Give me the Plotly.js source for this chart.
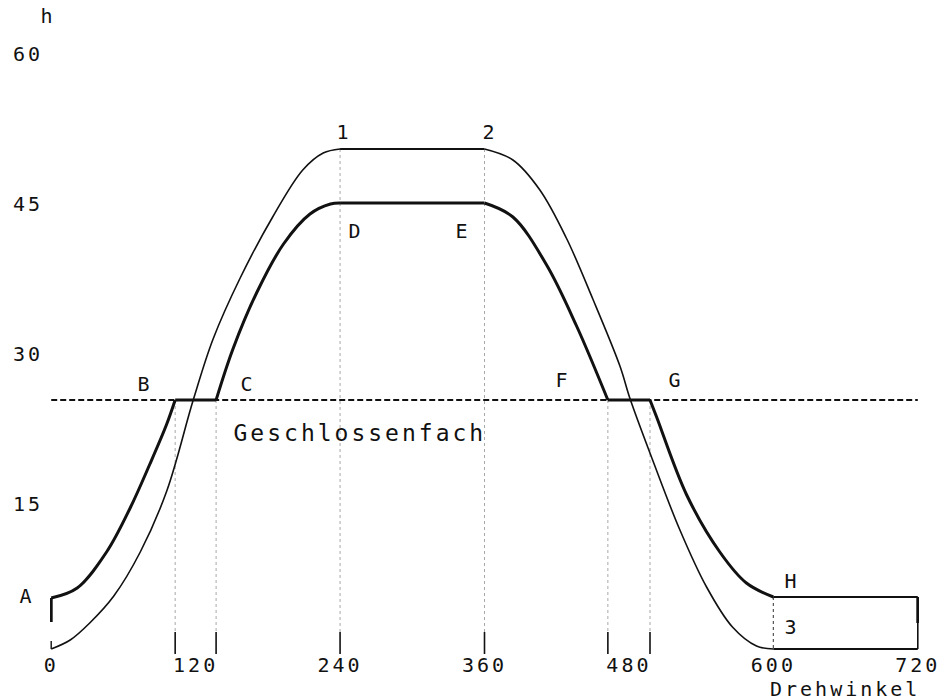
<!DOCTYPE html>
<html>
<head>
<meta charset="utf-8">
<script src="https://cdn.plot.ly/plotly-3.0.1.min.js"></script>
<style>
  body { margin: 0; background: #fff; }
  .main-svg text { letter-spacing: 3px; }
</style>
</head>
<body>
<div id="chart" style="width:946px;height:700px"></div>
<script>
// ---- data ----
const xTickVals = [0, 120, 240, 360, 480, 600, 720];
const xTickText = ['0', '120', '240', '360', '480', '600', '720'];
const yTickVals = [15, 30, 45, 60];
const yTickText = ['15', '30', '45', '60'];

const closedLevel = 25.4;           // Geschlossenfach
const closedX = [0, 720];

// bold curve pieces: A-B, B-C, C-D, D-E, E-F, F-G, G-H, H-end
const boldAB_X = [0, 21.6, 46, 65.6, 82, 96, 103];
const boldAB_Y = [5.6, 6.6, 10.2, 14.6, 19.0, 23.0, 25.4];
const boldBC_X = [103, 137];
const boldBC_Y = [25.4, 25.4];
const boldCD_X = [137, 151, 171, 193, 215, 232, 240];
const boldCD_Y = [25.4, 30.5, 36.2, 41.0, 44.0, 45.0, 45.1];
const boldDE_X = [240, 360];
const boldDE_Y = [45.1, 45.1];
const boldEF_X = [360, 383.6, 411.6, 436.5, 462.5];
const boldEF_Y = [45.1, 43.7, 38.9, 32.8, 25.4];
const boldFG_X = [462.5, 497.5];
const boldFG_Y = [25.4, 25.4];
const boldGH_X = [497.5, 503, 528, 555.5, 577.6, 600];
const boldGH_Y = [25.4, 23.7, 15.9, 10.2, 7.1, 5.7];
const boldHend_X = [600, 720];
const boldHend_Y = [5.7, 5.7];

// thin curve pieces: rise, plateau 1-2, fall, low end
const thinRiseX = [0, 15.8, 32, 52, 74, 96, 118, 134.5, 157, 184, 209, 226, 240];
const thinRiseY = [0.5, 1.4, 3.1, 5.8, 10.2, 16.3, 25.4, 31.5, 37.6, 43.7, 48.4, 50.1, 50.5];
const thinTopX = [240, 360];
const thinTopY = [50.5, 50.5];
const thinFallX = [360, 383.6, 406, 428, 450, 472.5, 481, 500, 522, 544.5, 566, 586, 600];
const thinFallY = [50.5, 49.4, 46.4, 41.6, 35.5, 28.8, 25.5, 19.3, 12.5, 6.7, 2.7, 0.8, 0.5];
const thinEndX = [600, 720];
const thinEndY = [0.5, 0.5];

// vertical guides and bottom marks
const guideX = [103, 137, 240, 360, 462.5, 497.5];
const guideTop = [25.4, 25.4, 50.5, 50.5, 25.4, 25.4];
const markTop = 2.2;

// end pieces
const startBoldY = [5.6, 3.2];
const startThinY = [1.3, 0.5];
const endBoldY = [5.7, 3.1];
const endThinY = [3.1, 0.5];
const box3Y = [5.7, 0.5];

// point labels (data coordinates)
const labelText = ['B', 'C', 'D', 'E', 'F', 'G', 'H', '1', '2', '3'];
const labelX = [78, 163.6, 253.3, 342, 425, 519.5, 615.3, 243.3, 364.6, 615.3];
const labelY = [27.0, 27.0, 42.3, 42.3, 27.4, 27.4, 7.3, 52.2, 52.2, 2.7];

// ---- build traces ----
const INK = '#111';
function seg(x, y, w, opts) {
  opts = opts || {};
  const line = { color: opts.color || INK, width: w, shape: opts.shape || 'linear', dash: opts.dash || 'solid' };
  if (opts.smoothing !== undefined) line.smoothing = opts.smoothing;
  return { type: 'scatter', mode: 'lines', x: x, y: y, hoverinfo: 'skip', showlegend: false, line: line };
}
const curve = { shape: 'spline', smoothing: 1.0 };

const traces = [];
guideX.forEach((gx, i) => {
  traces.push(seg([gx, gx], [guideTop[i], markTop], 1, { color: '#a8a8a8', dash: 'dot' }));
  traces.push(seg([gx, gx], [0, markTop], 1.6));
});
traces.push(seg([600, 600], box3Y, 1.2, { color: '#555', dash: 'dot' }));
traces.push(seg(closedX, [closedLevel, closedLevel], 2, { dash: '6px,3px' }));

// thin curve
traces.push(seg(thinRiseX, thinRiseY, 1.6, curve));
traces.push(seg(thinTopX, thinTopY, 1.8));
traces.push(seg(thinFallX, thinFallY, 1.6, curve));
traces.push(seg(thinEndX, thinEndY, 1.8));

// bold curve
traces.push(seg(boldAB_X, boldAB_Y, 3, curve));
traces.push(seg(boldBC_X, boldBC_Y, 3));
traces.push(seg(boldCD_X, boldCD_Y, 3, curve));
traces.push(seg(boldDE_X, boldDE_Y, 3));
traces.push(seg(boldEF_X, boldEF_Y, 3, curve));
traces.push(seg(boldFG_X, boldFG_Y, 3));
traces.push(seg(boldGH_X, boldGH_Y, 3, curve));
traces.push(seg(boldHend_X, boldHend_Y, 1.8));

// end pieces
traces.push(seg([0, 0], startBoldY, 3));
traces.push(seg([0, 0], startThinY, 1.4));
traces.push(seg([720, 720], endBoldY, 3));
traces.push(seg([720, 720], endThinY, 1.6));

const FONT = { family: 'DejaVu Sans Mono, Liberation Mono, monospace', size: 20, color: INK };

const annotations = labelText.map((t, i) => ({
  text: t, x: labelX[i], y: labelY[i], xref: 'x', yref: 'y',
  showarrow: false, xanchor: 'center', yanchor: 'middle', font: FONT
}));
annotations.push({
  text: 'Geschlossenfach', x: 256.4, y: 22.1, xref: 'x', yref: 'y',
  showarrow: false, xanchor: 'center', yanchor: 'middle',
  font: Object.assign({}, FONT, { size: 23 })
});
// labels outside the plotting area (paper coordinates)
annotations.push({ text: 'h', x: -0.002, y: 1.046, xref: 'paper', yref: 'paper',
  showarrow: false, xanchor: 'center', yanchor: 'middle', font: FONT });
annotations.push({ text: 'A', x: -0.0265, y: 0.0995, xref: 'paper', yref: 'paper',
  showarrow: false, xanchor: 'center', yanchor: 'middle', font: FONT });
annotations.push({ text: 'Drehwinkel', x: 0.9148, y: -0.053, xref: 'paper', yref: 'paper',
  showarrow: false, xanchor: 'center', yanchor: 'middle', font: FONT });

const layout = {
  width: 946, height: 700,
  margin: { l: 50, r: 27, t: 44, b: 43 },
  paper_bgcolor: '#fff', plot_bgcolor: '#fff',
  showlegend: false,
  font: FONT,
  xaxis: {
    range: [-1, 721], showgrid: false, zeroline: false, showline: false,
    tickmode: 'array', tickvals: xTickVals, ticktext: xTickText,
    ticks: '', ticklabelstandoff: -6, tickfont: FONT, fixedrange: true
  },
  yaxis: {
    range: [-0.3, 61], showgrid: false, zeroline: false, showline: false,
    tickmode: 'array', tickvals: yTickVals, ticktext: yTickText,
    ticks: '', ticklabelstandoff: 6, tickfont: FONT, fixedrange: true
  },
  annotations: annotations
};

Plotly.newPlot('chart', traces, layout, { displayModeBar: false, staticPlot: true });
</script>
</body>
</html>
